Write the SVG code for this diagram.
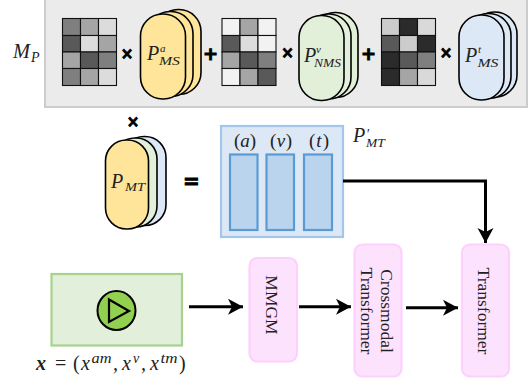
<svg xmlns="http://www.w3.org/2000/svg" width="530" height="385" viewBox="0 0 530 385">
<style>
.m{font-family:"Liberation Serif","Times New Roman",serif;font-style:italic;fill:#222}
.p{font-size:20px}
.s{font-size:13.5px}
.u{font-style:normal}
.r{font-family:"Liberation Serif","Times New Roman",serif;font-size:17.5px;fill:#222}
.op{font-family:"DejaVu Sans",sans-serif;font-weight:bold;fill:#000;stroke:#000;stroke-width:.9;text-anchor:middle}
.cap{stroke:#000;stroke-width:1.6}
.y{fill:#ffe599}.g{fill:#e2efd9}.b{fill:#dce8f5}
.pink{fill:#fde2fe;stroke:#fdd0fe;stroke-width:2.2}
.inner{fill:#b9d4ec;stroke:#5b9bd5;stroke-width:2.2}
.grid{stroke:#111;stroke-width:1.1}
.conn{fill:none;stroke:#000;stroke-width:3}
</style>
<defs>
<marker id="ah" markerUnits="userSpaceOnUse" markerWidth="18" markerHeight="18" refX="15" refY="8" orient="auto" overflow="visible"><path d="M0 0L15 8L0 16L4 8Z" fill="#000"/></marker>
</defs>
<g id="mp-panel">
<rect x="45" y="-2" width="482" height="109" fill="#ebebeb" stroke="#ccc" stroke-width="2"/>
<text class="m" x="13" y="58" font-size="21" textLength="17" lengthAdjust="spacingAndGlyphs">M</text><text class="m" x="31" y="62" font-size="14">P</text>
</g>
<g id="matrix-a" class="grid">
<rect x="62.5" y="18.5" width="18" height="17" fill="#7f7f7f"/><rect x="80.5" y="18.5" width="18" height="17" fill="#a5a5a5"/><rect x="98.5" y="18.5" width="18" height="17" fill="#dcdcdc"/>
<rect x="62.5" y="35.5" width="18" height="16.500" fill="#595959"/><rect x="80.5" y="35.500" width="18" height="16.500" fill="#dcdcdc"/><rect x="98.500" y="35.500" width="18" height="16.500" fill="#a5a5a5"/>
<rect x="62.5" y="52" width="18" height="16.500" fill="#a5a5a5"/><rect x="80.500" y="52" width="18" height="16.500" fill="#595959"/><rect x="98.500" y="52" width="18" height="16.500" fill="#7f7f7f"/>
<rect x="62.5" y="68.500" width="18" height="17" fill="#7f7f7f"/><rect x="80.500" y="68.500" width="18" height="17" fill="#a5a5a5"/><rect x="98.500" y="68.500" width="18" height="17" fill="#dcdcdc"/>
</g>
<g id="capsule-a">
<rect class="cap y" x="156" y="9.500" width="45" height="85" rx="22"/>
<rect class="cap y" x="148" y="11.500" width="45" height="85" rx="22"/>
<rect class="cap y" x="140.500" y="14" width="45" height="85" rx="22"/>
<text class="m p" x="147" y="60">P</text><text class="m" x="160" y="52" font-size="11">a</text><text class="m s" x="159" y="65" textLength="21" lengthAdjust="spacingAndGlyphs">MS</text>
</g>
<g id="matrix-v" class="grid">
<rect x="222" y="18.500" width="18" height="17" fill="#f2f2f2"/><rect x="240" y="18.500" width="18" height="17" fill="#a5a5a5"/><rect x="258" y="18.500" width="18" height="17" fill="#f2f2f2"/>
<rect x="222" y="35.500" width="18" height="16.500" fill="#595959"/><rect x="240" y="35.500" width="18" height="16.500" fill="#dcdcdc"/><rect x="258" y="35.500" width="18" height="16.500" fill="#f2f2f2"/>
<rect x="222" y="52" width="18" height="16.500" fill="#a5a5a5"/><rect x="240" y="52" width="18" height="16.500" fill="#595959"/><rect x="258" y="52" width="18" height="16.500" fill="#7f7f7f"/>
<rect x="222" y="68.500" width="18" height="17" fill="#f2f2f2"/><rect x="240" y="68.500" width="18" height="17" fill="#a5a5a5"/><rect x="258" y="68.500" width="18" height="17" fill="#595959"/>
</g>
<g id="capsule-v">
<rect class="cap g" x="313" y="12.500" width="45" height="85" rx="22"/>
<rect class="cap g" x="306" y="14" width="45" height="85" rx="22"/>
<rect class="cap g" x="299" y="15.500" width="45" height="85" rx="22"/>
<text class="m p" x="304" y="62">P</text><text class="m" x="316" y="53" font-size="11">v</text><text class="m s" x="314" y="67" textLength="27" lengthAdjust="spacingAndGlyphs">NMS</text>
</g>
<g id="matrix-t" class="grid">
<rect x="381.500" y="18.500" width="18" height="17" fill="#cccccc"/><rect x="399.500" y="18.500" width="18" height="17" fill="#2b2b2b"/><rect x="417.500" y="18.500" width="18" height="17" fill="#d9d9d9"/>
<rect x="381.500" y="35.500" width="18" height="16.500" fill="#595959"/><rect x="399.500" y="35.500" width="18" height="16.500" fill="#cccccc"/><rect x="417.500" y="35.500" width="18" height="16.500" fill="#2b2b2b"/>
<rect x="381.500" y="52" width="18" height="16.500" fill="#2b2b2b"/><rect x="399.500" y="52" width="18" height="16.500" fill="#595959"/><rect x="417.500" y="52" width="18" height="16.500" fill="#7f7f7f"/>
<rect x="381.500" y="68.500" width="18" height="17" fill="#2b2b2b"/><rect x="399.500" y="68.500" width="18" height="17" fill="#a5a5a5"/><rect x="417.500" y="68.500" width="18" height="17" fill="#d9d9d9"/>
</g>
<g id="capsule-t">
<rect class="cap b" x="472" y="12" width="45" height="85" rx="22"/>
<rect class="cap b" x="466" y="13.500" width="45" height="85" rx="22"/>
<rect class="cap b" x="459" y="15" width="45" height="85" rx="22"/>
<text class="m p" x="465" y="62">P</text><text class="m" x="478" y="53" font-size="11">t</text><text class="m s" x="477.500" y="67" textLength="21" lengthAdjust="spacingAndGlyphs">MS</text>
</g>
<g id="operators">
<text class="op" x="127" y="59" font-size="15">×</text>
<text class="op" x="210.500" y="60" font-size="18">+</text>
<text class="op" x="287.500" y="58" font-size="15">×</text>
<text class="op" x="368.500" y="60" font-size="18">+</text>
<text class="op" x="446" y="58" font-size="15">×</text>
<text class="op" x="133" y="127" font-size="15">×</text>
<text class="op" x="191.500" y="188" font-size="20">=</text>
</g>
<g id="capsule-mt">
<rect class="cap b" x="123" y="136.500" width="43" height="89" rx="21"/>
<rect class="cap g" x="114" y="138" width="43" height="89" rx="21"/>
<rect class="cap y" x="105.500" y="140" width="43" height="89" rx="21"/>
<text class="m p" x="111" y="188">P</text><text class="m s" x="125" y="191" textLength="20" lengthAdjust="spacingAndGlyphs">MT</text>
</g>
<g id="pmt-prime">
<rect x="221" y="126" width="122" height="111" fill="#dce8f5" stroke="#a3c6ea" stroke-width="2.200"/>
<rect class="inner" x="230" y="154.500" width="27.500" height="75.500"/>
<rect class="inner" x="266.500" y="154.500" width="27.500" height="75.500"/>
<rect class="inner" x="304" y="154.500" width="28" height="75.500"/>
<text class="m" x="234" y="147" font-size="19" textLength="22"><tspan class="u">(</tspan>a<tspan class="u">)</tspan></text>
<text class="m" x="270" y="147" font-size="19" textLength="22"><tspan class="u">(</tspan>v<tspan class="u">)</tspan></text>
<text class="m" x="309" y="147" font-size="19" textLength="20"><tspan class="u">(</tspan>t<tspan class="u">)</tspan></text>
<text class="m p" x="353" y="142">P<tspan font-size="14" x="366" y="139">′</tspan><tspan class="s" x="366" y="147">MT</tspan></text>
</g>
<g id="input">
<rect x="51.500" y="274" width="130.500" height="71.500" fill="#e2efda" stroke="#a9d18e" stroke-width="2.200"/>
<ellipse cx="116.500" cy="310.500" rx="19" ry="19.500" fill="#92d050" stroke="#000" stroke-width="2"/>
<path d="M109 299.500L129 311L109 322Z" fill="none" stroke="#000" stroke-width="2.200"/>
<text class="m p" x="36" y="370" font-weight="bold">x</text>
<text class="m p u" x="55" y="370">=</text>
<text class="m p u" x="73" y="370">(</text>
<text class="m p" x="81" y="370">x</text>
<text class="m" x="91.500" y="363" font-size="14" textLength="20" lengthAdjust="spacingAndGlyphs">am</text>
<text class="m p" x="113" y="370">,</text>
<text class="m p" x="122" y="370">x</text>
<text class="m" x="133" y="363" font-size="14">v</text>
<text class="m p" x="141" y="370">,</text>
<text class="m p" x="150" y="370">x</text>
<text class="m" x="160.500" y="363" font-size="14" textLength="17" lengthAdjust="spacingAndGlyphs">tm</text>
<text class="m p u" x="179" y="370">)</text>
</g>
<g id="mmgm">
<rect class="pink" x="249.500" y="258" width="47.500" height="103.500" rx="8"/>
<text class="r" transform="translate(266 305) rotate(90)" text-anchor="middle">MMGM</text>
</g>
<g id="crossmodal">
<rect class="pink" x="354.500" y="244.500" width="47" height="132" rx="8"/>
<text class="r" transform="translate(381 311) rotate(90)" text-anchor="middle">Crossmodal</text>
<text class="r" transform="translate(360.500 311) rotate(90)" text-anchor="middle">Transformer</text>
</g>
<g id="transformer">
<rect class="pink" x="462" y="244.500" width="47" height="132" rx="8"/>
<text class="r" transform="translate(478 311) rotate(90)" text-anchor="middle">Transformer</text>
</g>
<g id="connectors">
<path class="conn" d="M189 306.700H243" marker-end="url(#ah)"/>
<path class="conn" d="M299 306.700H351" marker-end="url(#ah)"/>
<path class="conn" d="M406 307.700H458" marker-end="url(#ah)"/>
<path class="conn" d="M343 181H485.500V243" marker-end="url(#ah)"/>
</g>
</svg>
